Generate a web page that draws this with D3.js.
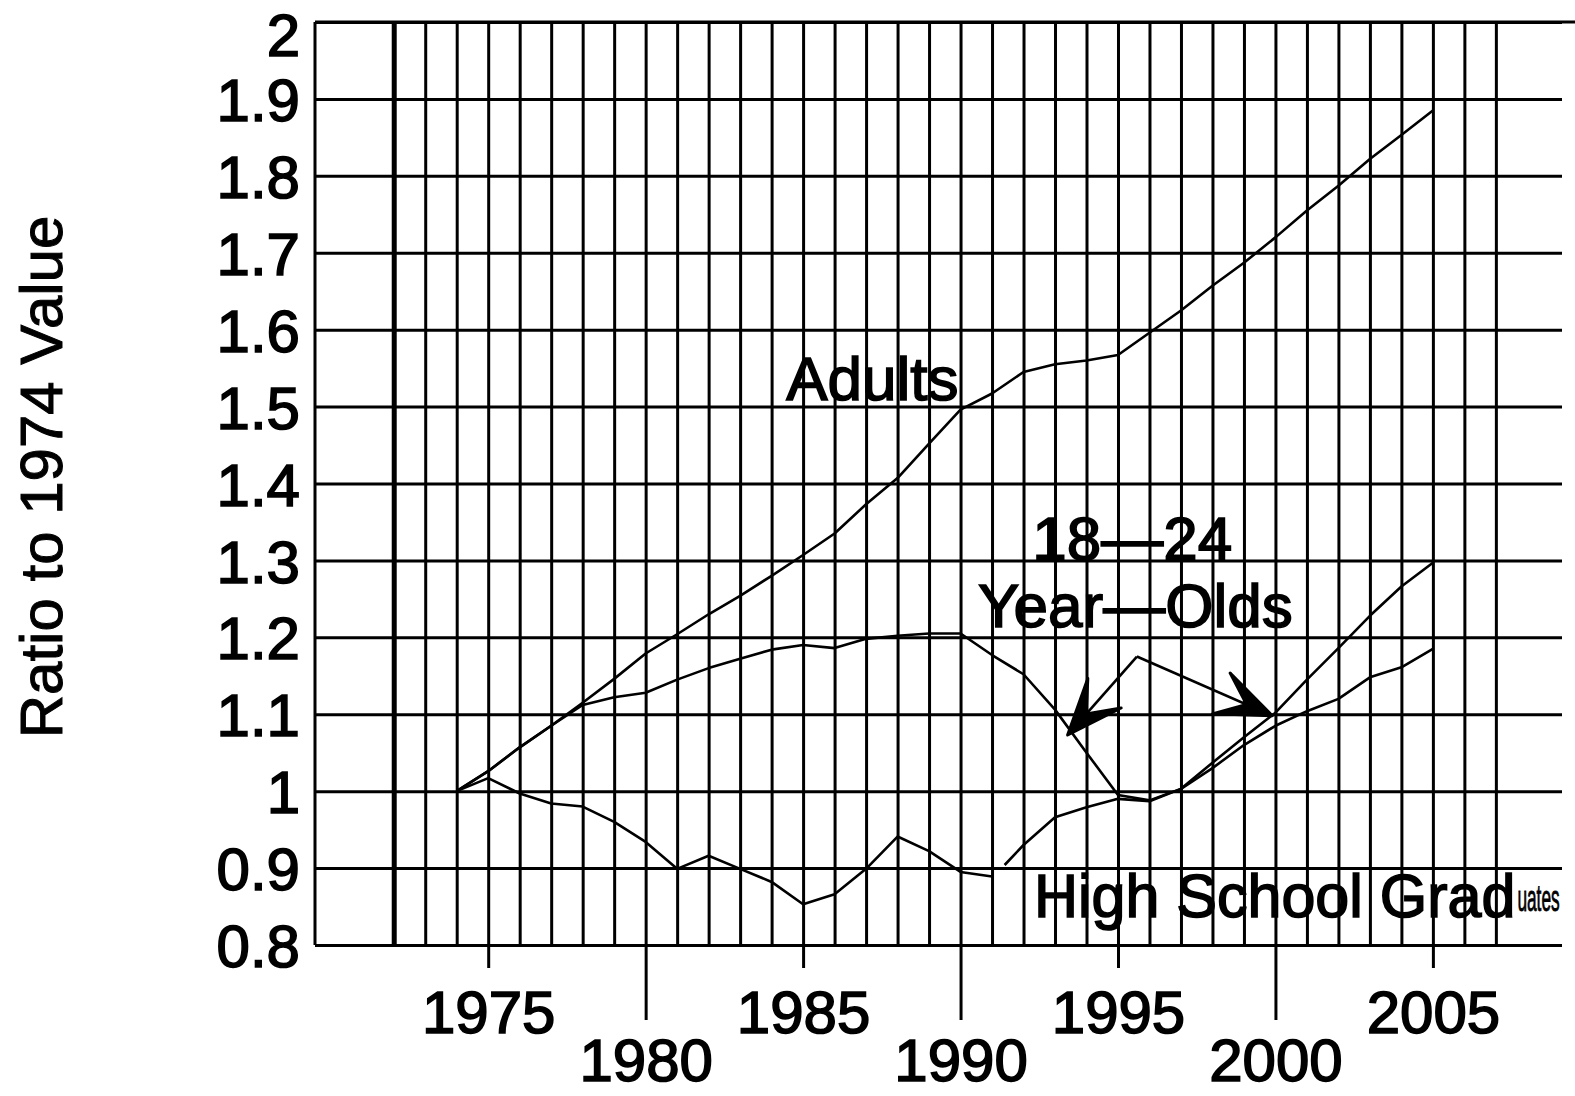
<!DOCTYPE html>
<html>
<head>
<meta charset="utf-8">
<script src="https://cdn.jsdelivr.net/npm/d3@7"></script>
<style>
  body { margin: 0; background: #fff; overflow: hidden; }
  svg { display: block; }
  text { font-family: "Liberation Sans", Arial, Helvetica, sans-serif; }
</style>
</head>
<body>
<div id="chart"></div>
<script>
// values (ratio to the 1974 value)
const years = [1974, 1975, 1976, 1977, 1978, 1979, 1980, 1981, 1982, 1983, 1984, 1985,
  1986, 1987, 1988, 1989, 1990, 1991, 1992, 1993, 1994, 1995, 1996, 1997, 1998, 1999,
  2000, 2001, 2002, 2003, 2004, 2005];

const adults = [1.0, 1.026, 1.057, 1.085, 1.115, 1.146, 1.179, 1.204, 1.23, 1.254, 1.28, 1.307,
  1.335, 1.373, 1.407, 1.452, 1.496, 1.517, 1.545, 1.555, 1.56, 1.567, 1.596, 1.625, 1.657, 1.687,
  1.72, 1.755, 1.787, 1.822, 1.853, 1.885];

const ages18to24 = [1.0, 1.026, 1.057, 1.085, 1.112, 1.122, 1.128, 1.145, 1.16, 1.172, 1.184, 1.19,
  1.186, 1.198, 1.202, 1.205, 1.205, 1.177, 1.152, 1.106, 1.05, 0.995, 0.988, 1.003, 1.037, 1.07,
  1.102, 1.145, 1.186, 1.228, 1.266, 1.297];

// the graduates curve is drawn in two pieces, with a small gap after 1991
const hsYears = [1974, 1975, 1976, 1977, 1978, 1979, 1980, 1981, 1982, 1983, 1984, 1985,
  1986, 1987, 1988, 1989, 1990, 1991, 1991.4, 1992, 1993, 1994, 1995, 1996, 1997, 1998, 1999,
  2000, 2001, 2002, 2003, 2004, 2005];
const hsGrads = [1.0, 1.017, 0.997, 0.984, 0.98, 0.96, 0.934, 0.899, 0.916, 0.899, 0.882, 0.853,
  0.866, 0.899, 0.941, 0.922, 0.895, 0.889, 0.904, 0.93, 0.966, 0.979, 0.99, 0.987, 1.003, 1.03, 1.06,
  1.085, 1.104, 1.12, 1.148, 1.161, 1.185];
const hsBreakAfter = 1991;

const yTicks = [0.8, 0.9, 1.0, 1.1, 1.2, 1.3, 1.4, 1.5, 1.6, 1.7, 1.8, 1.9, 2.0];
const gridYears = [1972, 1973, 1974, 1975, 1976, 1977, 1978, 1979, 1980, 1981, 1982, 1983,
  1984, 1985, 1986, 1987, 1988, 1989, 1990, 1991, 1992, 1993, 1994, 1995, 1996, 1997, 1998,
  1999, 2000, 2001, 2002, 2003, 2004, 2005, 2006, 2007];
const upperYearLabels = [1975, 1985, 1995, 2005];
const lowerYearLabels = [1980, 1990, 2000];

// arrow from the "18-24 Year-Olds" label: apex and the two tips (year, ratio)
const arrowApex = [1995.6, 1.175];
const arrowTips = [[1993.4, 1.073], [1999.9, 1.098]];

const W = 1575, H = 1096;
const plotLeft = 315, plotRight = 1562, plotTop = 22, plotBottom = 945;

const x = d3.scaleLinear().domain([1969.5, 2009.1]).range([plotLeft, plotRight]);
const y = d3.scaleLinear().domain([0.8, 2]).range([plotBottom, plotTop]);

const svg = d3.select("#chart").append("svg")
  .attr("width", W)
  .attr("height", H);

svg.append("rect").attr("width", W).attr("height", H).attr("fill", "#fff");

const INK = 1.6; // thicken glyphs a little, like the scanned print

// horizontal grid + y labels
const yAxis = svg.append("g")
  .attr("transform", `translate(${plotLeft},0)`)
  .call(d3.axisLeft(y).tickValues(yTicks).tickSize(-(plotRight - plotLeft))
    .tickPadding(15).tickFormat(d3.format("~g")));
yAxis.select(".domain").remove();
yAxis.selectAll("line").attr("stroke", "#000").attr("stroke-width", 3);
yAxis.selectAll("text")
  .attr("font-size", 60)
  .attr("font-family", "Liberation Sans, Arial, sans-serif")
  .attr("fill", "#000")
  .attr("stroke", "#000").attr("stroke-width", INK)
  // the top label sits lower so it stays on the page
  .attr("dy", d => d === 2 ? "0.56em" : "0.36em");

// top border runs off to the right edge
svg.append("line")
  .attr("x1", plotLeft).attr("x2", W)
  .attr("y1", y(2)).attr("y2", y(2))
  .attr("stroke", "#000").attr("stroke-width", 3);

// vertical grid, one line per year
const xGrid = svg.append("g")
  .attr("transform", `translate(0,${plotBottom})`)
  .call(d3.axisBottom(x).tickValues(gridYears).tickSize(-(plotBottom - plotTop)).tickFormat(""));
xGrid.select(".domain").remove();
xGrid.selectAll("line")
  .attr("stroke", "#000")
  .attr("stroke-width", d => d === 1972 ? 5 : 3);

// left frame
svg.append("line")
  .attr("x1", plotLeft).attr("x2", plotLeft)
  .attr("y1", plotTop).attr("y2", plotBottom)
  .attr("stroke", "#000").attr("stroke-width", 3);

// staggered year labels below
function yearAxis(vals, size, pad) {
  const g = svg.append("g")
    .attr("transform", `translate(0,${plotBottom})`)
    .call(d3.axisBottom(x).tickValues(vals).tickSize(size).tickPadding(pad).tickFormat(d3.format("d")));
  g.select(".domain").remove();
  g.selectAll("line").attr("stroke", "#000").attr("stroke-width", 3);
  g.selectAll("text")
    .attr("font-size", 60)
    .attr("font-family", "Liberation Sans, Arial, sans-serif")
    .attr("fill", "#000")
    .attr("stroke", "#000").attr("stroke-width", INK);
}
yearAxis(upperYearLabels, 23, 22);
yearAxis(lowerYearLabels, 75, 18);

// y title
svg.append("text")
  .attr("transform", `translate(62,${(y(1.4) + y(1.3)) / 2 - 45}) rotate(-90)`)
  .attr("text-anchor", "middle")
  .attr("font-size", 60)
  .attr("fill", "#000")
  .attr("stroke", "#000").attr("stroke-width", 1)
  .text("Ratio to 1974 Value");

// series
const line = d3.line().x(d => x(d.year)).y(d => y(d.value));

const adultPts = years.map((yr, i) => ({ year: yr, value: adults[i] }));
const youthPts = years.map((yr, i) => ({ year: yr, value: ages18to24[i] }));
const hsPts = hsYears.map((yr, i) => ({ year: yr, value: hsGrads[i] }));
const hsPieces = [
  hsPts.filter(d => d.year <= hsBreakAfter),
  hsPts.filter(d => d.year > hsBreakAfter)
];

svg.selectAll("path.series")
  .data([adultPts, youthPts, ...hsPieces])
  .join("path")
  .attr("class", "series")
  .attr("d", line)
  .attr("fill", "none")
  .attr("stroke", "#000")
  .attr("stroke-width", 2.6)
  .attr("stroke-linejoin", "round");

// annotation arrows
const ax = x(arrowApex[0]), ay = y(arrowApex[1]);
arrowTips.forEach(t => {
  const tx = x(t[0]), ty = y(t[1]);
  svg.append("line")
    .attr("x1", ax).attr("y1", ay).attr("x2", tx).attr("y2", ty)
    .attr("stroke", "#000").attr("stroke-width", 2.6);
  const ang = Math.atan2(ay - ty, ax - tx);
  const len = 60, spread = 0.38, notch = 28;
  const p1 = [tx + len * Math.cos(ang - spread), ty + len * Math.sin(ang - spread)];
  const p2 = [tx + notch * Math.cos(ang), ty + notch * Math.sin(ang)];
  const p3 = [tx + len * Math.cos(ang + spread), ty + len * Math.sin(ang + spread)];
  svg.append("path")
    .attr("d", `M${tx},${ty}L${p1}L${p2}L${p3}Z`)
    .attr("fill", "#000")
    .attr("stroke", "#000").attr("stroke-width", 3)
    .attr("stroke-linejoin", "round");
});

// series labels
const labelStyle = sel => sel
  .attr("font-size", 62)
  .attr("fill", "#000")
  .attr("stroke", "#000").attr("stroke-width", INK);

svg.append("text").call(labelStyle)
  .attr("x", x(1987.2)).attr("y", y(1.508))
  .attr("text-anchor", "middle")
  .text("Adults");

svg.append("text").call(labelStyle)
  .attr("x", x(1995.45)).attr("y", y(1.30))
  .attr("text-anchor", "middle")
  .text("18\u201424");

svg.append("text").call(labelStyle)
  .attr("x", x(1995.55)).attr("y", y(1.213))
  .attr("text-anchor", "middle")
  .text("Year\u2014Olds");

// "High School Graduates": the tail of the word is squeezed small in the original
const hsX = x(1992.33), hsY = y(0.836);
const hs = svg.append("text").call(labelStyle)
  .attr("x", hsX).attr("y", hsY)
  .attr("font-size", 61)
  .text("High School Grad");
const hsEnd = hsX + hs.node().getComputedTextLength();
svg.append("text")
  .attr("transform", `translate(${hsEnd + 2},${hsY - 6}) scale(0.48,1)`)
  .attr("font-size", 36)
  .attr("fill", "#000")
  .attr("stroke", "#000").attr("stroke-width", 0.8)
  .text("uates");
</script>
</body>
</html>
